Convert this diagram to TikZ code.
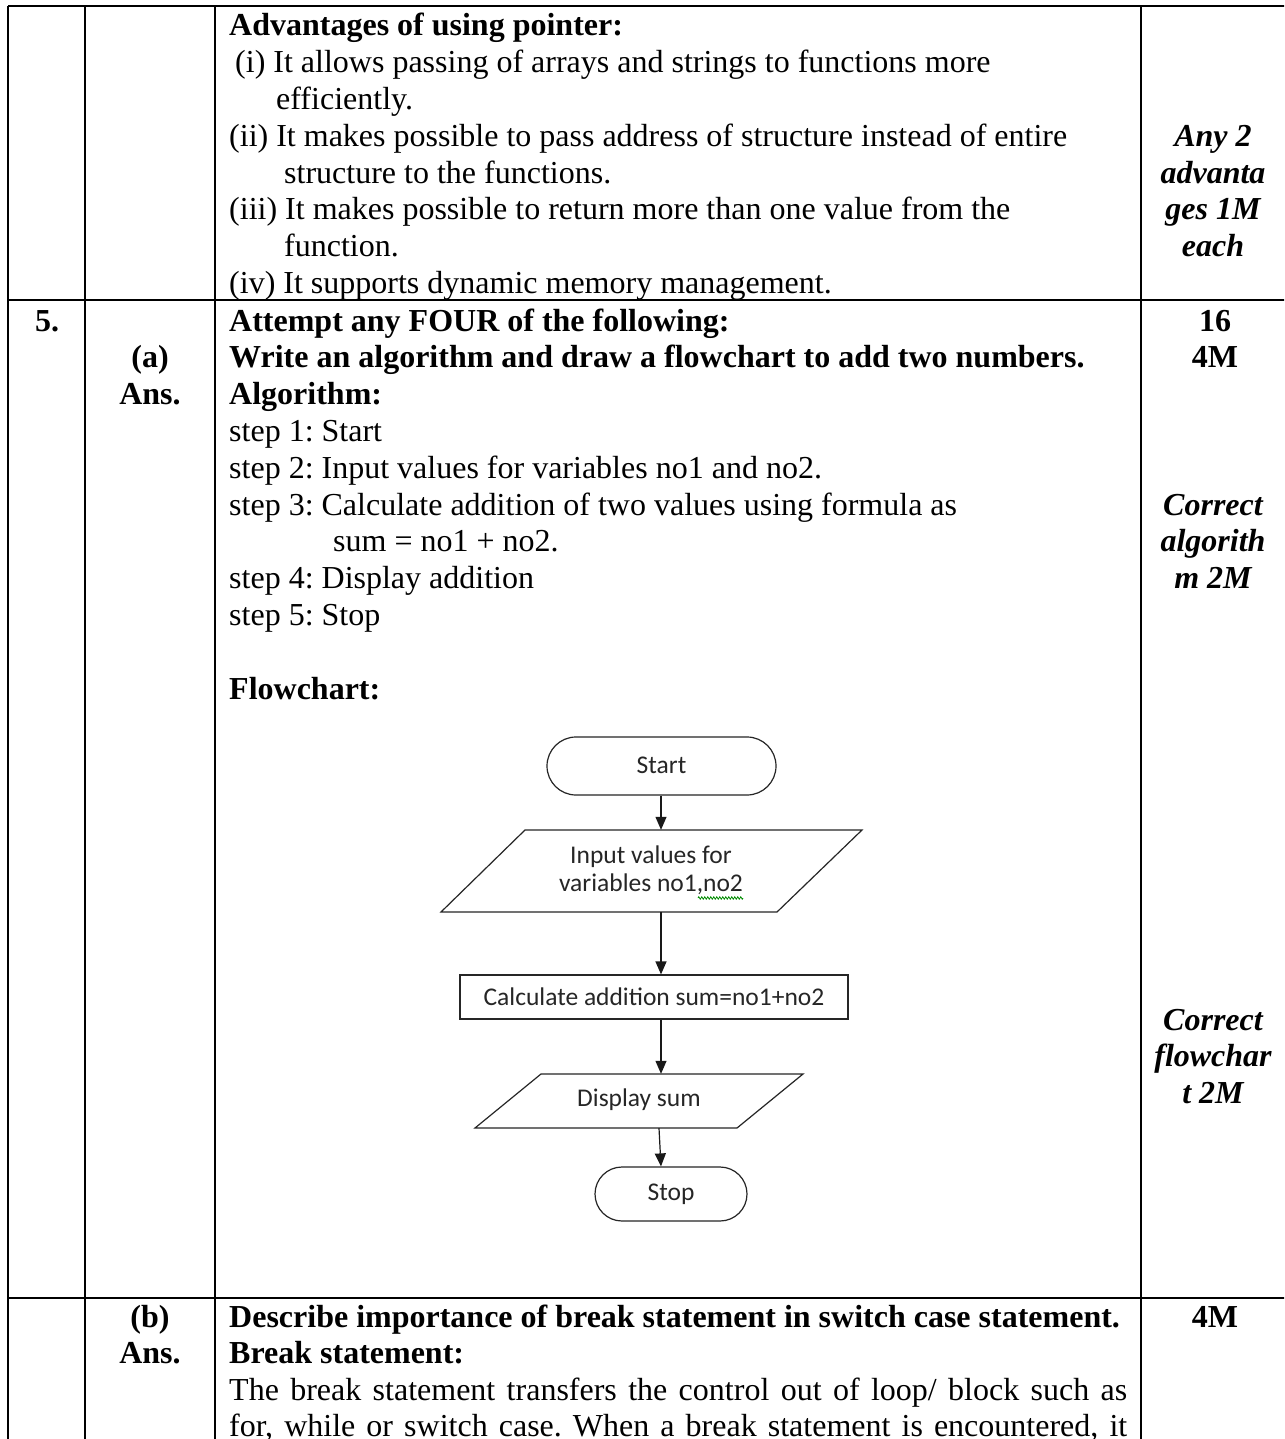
\documentclass[tikz,border=0pt]{standalone}
\usepackage{fontspec}
\setmainfont{Liberation Serif}
\newfontfamily\flowfont{Carlito}
\usetikzlibrary{arrows.meta,calc,decorations.pathmorphing}
\frenchspacing
\begin{document}
\frenchspacing
\begin{tikzpicture}[x=1pt,y=-1pt,
  txt/.style={anchor=base west, inner sep=0pt, font=\fontsize{32}{36.8}\selectfont},
  bold/.style={anchor=base west, inner sep=0pt, font=\fontsize{32}{36.8}\selectfont\bfseries},
  ctr/.style={anchor=base, inner sep=0pt, font=\fontsize{32}{36.8}\selectfont\bfseries},
  remark/.style={anchor=base, inner sep=0pt, font=\fontsize{32}{36.8}\selectfont\bfseries\itshape},
  hline/.style={line width=1.8pt},
  vline/.style={line width=1.4pt},
  fc/.style={draw=black!85, line width=1.2pt},
  ftext/.style={font=\flowfont\fontsize{25.5}{30}\selectfont, text=black!85, align=center, inner sep=0pt},
  arr/.style={line width=1.2pt, draw=black!90, -{Triangle[length=13pt,width=11pt]}}
]
\useasboundingbox (0,0) rectangle (1284,1439);
\clip (0,0) rectangle (1284,1439);
\fill[white] (0,0) rectangle (1284,1439);

% table lines
\draw[hline] (8,6) -- (1290,6);
\draw[hline] (8,300) -- (1290,300);
\draw[hline] (8,1298) -- (1290,1298);
\draw[vline] (8,6) -- (8,1445);
\draw[vline] (85,6) -- (85,1445);
\draw[vline] (215,6) -- (215,1445);
\draw[vline] (1141,6) -- (1141,1445);

% row 1
\node[bold] (adv) at (229,36) {Advantages of using pointer:};
\node[txt] (p1) at (235,72.8) {(i) It allows passing of arrays and strings to functions more};
\node[txt] (p1b) at (276,109.6) {efficiently.};
\node[txt] (p2) at (229,146.4) {(ii) It makes possible to pass address of structure instead of entire};
\node[txt] (p2b) at (284,183.2) {structure to the functions.};
\node[txt] (p3) at (229,220) {(iii) It makes possible to return more than one value from the};
\node[txt] (p3b) at (284,256.8) {function.};
\node[txt] (p4) at (229,293.6) {(iv) It supports dynamic memory management.};
\node[remark] (r1a) at (1213,146.4) {Any 2};
\node[remark] (r1b) at (1213,183.2) {advanta};
\node[remark] (r1c) at (1213,220) {ges 1M};
\node[remark] (r1d) at (1213,256.8) {each};

% row 2
\node[ctr] (q5) at (47,331) {5.};
\node[ctr] (qa) at (150,367.8) {(a)};
\node[ctr] (ansa) at (150,404.6) {Ans.};
\node[bold] (att) at (229,331) {Attempt any FOUR of the following:};
\node[bold] (wr) at (229,367.8) {Write an algorithm and draw a flowchart to add two numbers.};
\node[bold] (alg) at (229,404.6) {Algorithm:};
\node[txt] (s1) at (229,441.4) {step 1: Start};
\node[txt] (s2) at (229,478.2) {step 2: Input values for variables no1 and no2.};
\node[txt] (s3) at (229,515) {step 3: Calculate addition of two values using formula as};
\node[txt] (s3b) at (333,551.8) {sum = no1 + no2.};
\node[txt] (s4) at (229,588.6) {step 4: Display addition};
\node[txt] (s5) at (229,625.4) {step 5: Stop};
\node[bold] (fch) at (229,699) {Flowchart:};
\node[ctr] (m16) at (1215,331) {16};
\node[ctr] (m4a) at (1215,367.8) {4M};
\node[remark] (r2a) at (1213,515) {Correct};
\node[remark] (r2b) at (1213,551.8) {algorith};
\node[remark] (r2c) at (1213,588.6) {m 2M};
\node[remark] (r3a) at (1213,1030) {Correct};
\node[remark] (r3b) at (1213,1066.8) {flowchar};
\node[remark] (r3c) at (1213,1103.6) {t 2M};

% flowchart
\node[fc, ftext, rounded corners=29pt, minimum width=229pt, minimum height=58pt] (start) at (661.5,766) {\raisebox{2pt}{Start}};
\node[ftext, minimum height=82pt] (inp) at (651,871) {\raisebox{5pt}{\shortstack{Input values for\\[3pt]variables no1,no2}}};
\draw[fc] (525,830) -- (862,830) -- (777,912) -- (441,912) -- cycle;
\node[fc, ftext, minimum width=388pt, minimum height=44pt] (calc) at (654,997) {Calculate addition sum=no1+no2};
\node[ftext, minimum height=54pt] (disp) at (639,1101) {\raisebox{6pt}{Display sum}};
\draw[fc] (541,1074) -- (803,1074) -- (737,1128) -- (475,1128) -- cycle;
\node[fc, ftext, rounded corners=27pt, minimum width=152pt, minimum height=54pt] (stop) at (671,1194) {Stop};
\draw[green!55!black, line width=0.8pt, decorate, decoration={zigzag, amplitude=1.2pt, segment length=3pt}] (698,898) -- (743,898);

\coordinate (ax) at (661,0);
\draw[arr] (ax |- start.south) -- (ax |- inp.north);
\draw[arr] (ax |- inp.south) -- (ax |- calc.north);
\draw[arr] (ax |- calc.south) -- (ax |- disp.north);
\draw[arr] ($(ax |- disp.south)+(-2,0)$) -- (ax |- stop.north);

% row 3
\node[ctr] (qb) at (150,1327) {(b)};
\node[ctr] (ansb) at (150,1363.8) {Ans.};
\node[bold] (desc) at (229,1327) {Describe importance of break statement in switch case statement.};
\node[ctr] (m4b) at (1215,1327) {4M};
\node[bold] (brk) at (229,1363.8) {Break statement:};
\node[txt] (b1) at (229,1400.6) {\makebox[898pt][s]{The break statement transfers the control out of loop/ block such as}};
\node[txt] (b2) at (229,1436.4) {\makebox[898pt][s]{for, while or switch case. When a break statement is encountered, it}};
\end{tikzpicture}
\end{document}
